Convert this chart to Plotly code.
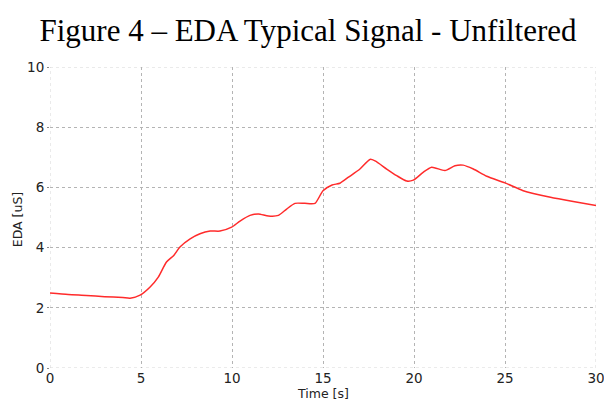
import plotly.graph_objects as go

# EDA trace sampled along time (seconds) and conductance (microsiemens)
time_s = [0.0, 1.0, 2.0, 3.0, 4.0, 4.4, 4.95, 5.5, 5.95, 6.4, 6.8, 7.14, 7.7, 8.24, 8.8,
          9.34, 9.98, 10.44, 10.99, 11.45, 12.0, 12.55, 13.0, 13.46, 14.0, 14.56, 15.0,
          15.5, 15.93, 16.4, 17.03, 17.58, 17.86, 18.5, 19.05, 19.6, 19.96, 20.5, 20.97,
          21.7, 22.25, 22.7, 23.26, 24.0, 25.0, 26.0, 27.5, 28.75, 30.0]
eda_us = [2.49, 2.44, 2.41, 2.37, 2.34, 2.32, 2.42, 2.69, 3.02, 3.52, 3.74, 4.02, 4.29, 4.46, 4.55,
          4.55, 4.68, 4.88, 5.07, 5.12, 5.05, 5.07, 5.28, 5.47, 5.47, 5.47, 5.89,
          6.08, 6.14, 6.34, 6.61, 6.93, 6.88, 6.61, 6.39, 6.21, 6.24, 6.5, 6.67,
          6.56, 6.72, 6.74, 6.61, 6.37, 6.15, 5.89, 5.67, 5.53, 5.40]

x_ticks = [0, 5, 10, 15, 20, 25, 30]
y_ticks = [0, 2, 4, 6, 8, 10]

fig = go.Figure()
fig.add_trace(go.Scatter(
    x=time_s, y=eda_us, mode="lines",
    line=dict(color="#ff2b2b", width=1.5, shape="spline", smoothing=0.6),
    showlegend=False,
))

grid = dict(showgrid=True, gridcolor="#b4b4b4", griddash="dot", gridwidth=1,
            zeroline=False, showline=False, tickcolor="#888888",
            ticklabeloverflow="allow", automargin=False,
            tickfont=dict(family="DejaVu Sans", size=13.5, color="#222222"))

# faint dotted frame around the plotting area
for x0, y0, x1, y1 in [(0, 0, 30, 0), (0, 10, 30, 10), (0, 0, 0, 10), (30, 0, 30, 10)]:
    fig.add_shape(type="line", xref="x", yref="y", x0=x0, y0=y0, x1=x1, y1=y1,
                  line=dict(color="#d6d6d6", width=1, dash="dot"), layer="below")

label_font = dict(family="DejaVu Sans", size=12.5, color="#222222")
fig.add_annotation(text="Time [s]", xref="paper", yref="paper", x=0.5, y=-0.084,
                   xanchor="center", yanchor="middle", showarrow=False, font=label_font)
fig.add_annotation(text="EDA [uS]", xref="paper", yref="paper", x=-0.058, y=0.492,
                   xanchor="center", yanchor="middle", textangle=-90, showarrow=False,
                   font=label_font)

fig.update_layout(
    width=604, height=401,
    margin=dict(l=50, r=8, t=67, b=33),
    paper_bgcolor="white", plot_bgcolor="white",
    title=dict(text="Figure 4 – EDA Typical Signal - Unfiltered",
               font=dict(family="Liberation Serif", size=31, color="black"),
               x=0.51, xanchor="center", y=0.925, yanchor="middle"),
    xaxis=dict(range=[0, 30], tickvals=x_ticks, ticks="", **grid),
    yaxis=dict(range=[0, 10], tickvals=y_ticks, ticks="outside", ticklen=2, **grid),
)

fig.write_html("out.html")
